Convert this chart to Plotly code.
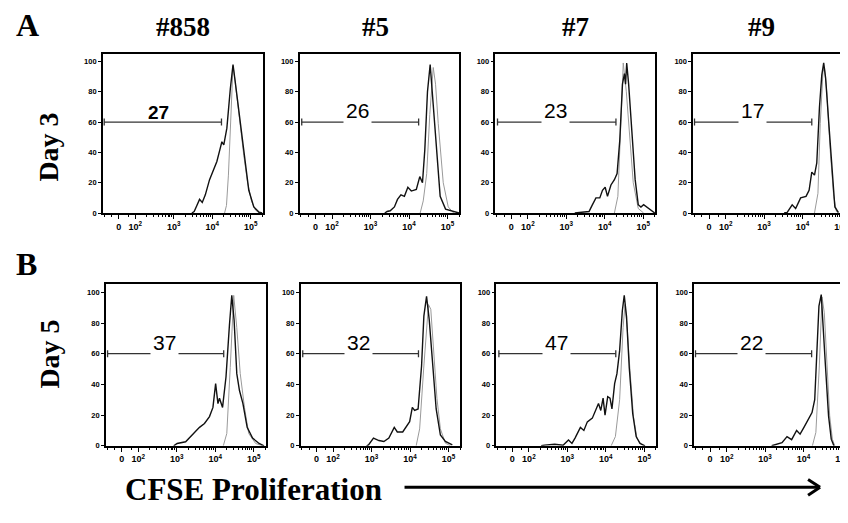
import plotly.graph_objects as go

# ---------------- data (x in decades of CFSE fluorescence, biexponential display; y in % of max) -------------
row_titles = ["Day 3", "Day 5"]
col_titles = ["#858", "#5", "#7", "#9"]
gate_pct = ["27", "26", "23", "17", "37", "32", "47", "22"]
gate_left = [1.19, 1.21, 1.21, 1.19, 1.2, 1.21, 1.22, 1.19]
gate_right = [4.24, 4.25, 4.29, 4.24, 4.22, 4.22, 4.26, 4.21]
gate_label_x = [2.61, 2.66, 2.71, 2.70, 2.69, 2.67, 2.71, 2.65]

x_tick_vals = [1.57, 2.0, 3.0, 4.0, 5.0]
x_tick_text = ["0", "10<sup>2</sup>", "10<sup>3</sup>", "10<sup>4</sup>", "10<sup>5</sup>"]
x_minor_vals = [1.19, 1.38, 1.81,
                2.30, 2.48, 2.60, 2.70, 2.78, 2.85, 2.90, 2.95,
                3.30, 3.48, 3.60, 3.70, 3.78, 3.85, 3.90, 3.95,
                4.30, 4.48, 4.60, 4.70, 4.78, 4.85, 4.90, 4.95, 5.30]
y_tick_vals = [0, 20, 40, 60, 80, 100]

a1_black_x = [3.47, 3.53, 3.60, 3.67, 3.74, 3.82, 3.93, 4.02, 4.12, 4.20, 4.25, 4.30, 4.38, 4.47, 4.54, 4.60, 4.69, 4.82, 4.95, 5.08, 5.22, 5.30]
a1_black_y = [0, 1, 5, 9, 7, 12, 22, 28, 34, 42, 47, 45, 56, 82, 98, 86, 67, 41, 15, 4, 0.5, 0]
a1_gray_x = [4.32, 4.37, 4.42, 4.47, 4.52, 4.54, 4.58, 4.64, 4.72, 4.82, 4.92, 5.02, 5.12, 5.22]
a1_gray_y = [0, 5, 25, 60, 95, 97, 90, 76, 58, 38, 20, 8, 2, 0]

a2_black_x = [3.37, 3.43, 3.51, 3.62, 3.70, 3.79, 3.88, 3.97, 4.06, 4.19, 4.28, 4.35, 4.41, 4.48, 4.55, 4.63, 4.72, 4.81, 4.95, 5.12, 5.25, 5.30]
a2_black_y = [0, 1, 1.5, 4, 9, 12, 11, 17, 14.5, 15.6, 24, 20, 41.5, 80, 98, 70, 37, 11, 2.6, 1.5, 0.4, 0]
a2_gray_x = [4.29, 4.37, 4.46, 4.54, 4.63, 4.69, 4.76, 4.89, 5.02, 5.16]
a2_gray_y = [0, 8, 26, 65, 96, 85, 59, 20, 4, 0]

a3_black_x = [3.22, 3.32, 3.59, 3.67, 3.77, 3.87, 3.94, 4.01, 4.07, 4.16, 4.25, 4.32, 4.39, 4.46, 4.51, 4.54, 4.57, 4.62, 4.70, 4.79, 4.87, 4.94, 5.01, 5.14, 5.30]
a3_black_y = [0, 0.4, 1, 5, 10, 10, 15, 17, 11, 18.5, 22, 26, 48, 85, 92, 85, 99, 85, 52, 22, 5.5, 4, 5.5, 3, 0]
a3_gray_x = [4.25, 4.34, 4.40, 4.48, 4.56, 4.65, 4.74, 4.87, 5.01]
a3_gray_y = [0, 11, 48, 99, 80, 48, 20, 3, 0]

a4_black_x = [3.52, 3.60, 3.73, 3.82, 3.95, 4.09, 4.17, 4.24, 4.31, 4.37, 4.44, 4.50, 4.55, 4.60, 4.69, 4.78, 4.84, 4.93]
a4_black_y = [0, 0.4, 5.4, 3, 10, 11, 15, 27, 25, 33, 70, 91, 99, 89, 56.5, 22, 4, 0.4]
a4_gray_x = [4.31, 4.40, 4.46, 4.53, 4.57, 4.63, 4.72, 4.81, 4.88, 4.95]
a4_gray_y = [0, 13, 59, 93, 96, 80, 41, 11, 1, 0]

b1_black_x = [2.92, 3.01, 3.23, 3.36, 3.50, 3.59, 3.72, 3.85, 3.94, 4.01, 4.07, 4.11, 4.19, 4.28, 4.37, 4.43, 4.49, 4.56, 4.63, 4.72, 4.83, 4.97, 5.14, 5.27]
b1_black_y = [0, 1.5, 2.6, 6, 10, 12, 14.5, 19, 25, 40.5, 27.5, 31, 25, 45, 79, 98, 82, 47, 36, 27.5, 12, 5, 1.5, 0]
b1_gray_x = [4.21, 4.30, 4.39, 4.48, 4.56, 4.65, 4.76, 4.87, 5.05, 5.23]
b1_gray_y = [0, 8, 51, 98, 77, 47, 25, 8, 1.5, 0]

b2_black_x = [2.87, 2.92, 3.05, 3.19, 3.32, 3.45, 3.59, 3.67, 3.81, 3.91, 3.99, 4.06, 4.12, 4.21, 4.30, 4.36, 4.43, 4.50, 4.59, 4.68, 4.79, 4.92, 5.10]
b2_black_y = [0, 0.6, 5, 3.4, 2.8, 5, 12, 9, 9, 12.5, 15.7, 25, 23, 24, 52, 84.5, 97.4, 82, 52, 24, 7, 2.8, 0.6]
b2_gray_x = [4.16, 4.25, 4.36, 4.48, 4.54, 4.61, 4.70, 4.79, 4.92, 5.05]
b2_gray_y = [0, 11, 52, 92, 89, 63, 31, 11, 1.7, 0]

b3_black_x = [2.32, 2.41, 2.67, 2.89, 3.03, 3.12, 3.20, 3.34, 3.43, 3.52, 3.65, 3.74, 3.81, 3.87, 3.93, 3.98, 4.05, 4.11, 4.16, 4.23, 4.29, 4.36, 4.43, 4.48, 4.54, 4.61, 4.70, 4.79, 4.89, 5.02]
b3_black_y = [0, 0.4, 1, 0.4, 3.7, 1.5, 5, 12, 10, 15.6, 18, 23, 27.5, 23, 31, 20, 32, 31, 24, 40.5, 47, 62, 88, 98, 84, 51, 21, 6, 1.5, 0]
b3_gray_x = [4.14, 4.25, 4.36, 4.45, 4.50, 4.55, 4.63, 4.72, 4.81, 4.94]
b3_gray_y = [0, 6, 30, 77, 92, 79, 49, 19, 5, 0.4]

b4_black_x = [3.17, 3.26, 3.44, 3.57, 3.69, 3.82, 3.91, 4.01, 4.13, 4.22, 4.29, 4.34, 4.40, 4.46, 4.50, 4.57, 4.65, 4.72, 4.79]
b4_black_y = [0, 0.6, 2, 6, 4, 10, 7.6, 12, 17, 21.6, 30, 63, 91, 98.5, 84, 52, 19.5, 4.3, 0]
b4_gray_x = [4.23, 4.32, 4.41, 4.48, 4.54, 4.61, 4.68, 4.75, 4.81]
b4_gray_y = [0, 8.7, 52, 97, 86.6, 52, 19.5, 4.3, 0]

black_series = [(a1_black_x, a1_black_y), (a2_black_x, a2_black_y), (a3_black_x, a3_black_y), (a4_black_x, a4_black_y),
                (b1_black_x, b1_black_y), (b2_black_x, b2_black_y), (b3_black_x, b3_black_y), (b4_black_x, b4_black_y)]
gray_series = [(a1_gray_x, a1_gray_y), (a2_gray_x, a2_gray_y), (a3_gray_x, a3_gray_y), (a4_gray_x, a4_gray_y),
               (b1_gray_x, b1_gray_y), (b2_gray_x, b2_gray_y), (b3_gray_x, b3_gray_y), (b4_gray_x, b4_gray_y)]

# ---------------- layout (pixel geometry, in screen pixels of the reference) ----------------
W, H = 848, 523
OFF = 8  # page body margin compensation
panel_left = [103, 300, 496, 694, 106, 301, 497, 695]
panel_w = 160
rows_px = [(54, 215), (287, 450)]
px_per_decade = 38.5
x_min = 1.156
y_top = 105.2
GATE_Y = 60


def fx(px):
    return (px - OFF) / W


def fy(py):
    return 1 - (py - OFF) / H


fig = go.Figure()
layout = dict(width=W, height=H, margin=dict(l=0, r=0, t=0, b=0),
              paper_bgcolor="white", plot_bgcolor="white", showlegend=False)

annotations = []
serif = "Liberation Serif"
sans = "Liberation Sans"

for i in range(8):
    r = i // 4
    n = i + 1
    xa = "x" if n == 1 else f"x{n}"
    ya = "y" if n == 1 else f"y{n}"
    left = panel_left[i]
    right = left + panel_w
    top, bot = rows_px[r]
    x_max = x_min + (right - left) / px_per_decade

    gx, gy = gray_series[i]
    fig.add_trace(go.Scatter(x=gx, y=gy, mode="lines", line=dict(color="#9a9a9a", width=1),
                             xaxis=xa, yaxis=ya, hoverinfo="skip"))
    bx, by = black_series[i]
    fig.add_trace(go.Scatter(x=bx, y=by, mode="lines", line=dict(color="#111111", width=1.4),
                             xaxis=xa, yaxis=ya, hoverinfo="skip"))
    gl, gr = gate_left[i], gate_right[i]
    fig.add_trace(go.Scatter(x=[gl, gr, None, gl, gl, None, gr, gr],
                             y=[GATE_Y, GATE_Y, None, GATE_Y - 2.3, GATE_Y + 2.3, None, GATE_Y - 2.3, GATE_Y + 2.3],
                             mode="lines", line=dict(color="#333333", width=1.3),
                             xaxis=xa, yaxis=ya, hoverinfo="skip"))
    if i == 0:
        annotations.append(dict(x=gate_label_x[i], y=66.5, xref=xa, yref=ya, text=gate_pct[i],
                                showarrow=False, font=dict(family=sans, size=19, color="black", weight="bold")))
    else:
        annotations.append(dict(x=gate_label_x[i], y=67.5, xref=xa, yref=ya, text=gate_pct[i],
                                showarrow=False, bgcolor="white", borderpad=2,
                                font=dict(family=sans, size=21, color="black")))

    layout["xaxis" if n == 1 else f"xaxis{n}"] = dict(
        domain=[fx(left), min(fx(right), 1.0)], range=[x_min, x_max], anchor=ya,
        showline=True, linecolor="black", linewidth=1.5, mirror=True,
        showgrid=False, zeroline=False,
        tickmode="array", tickvals=x_tick_vals, ticktext=x_tick_text,
        ticks="outside", ticklen=4, tickwidth=1.2, tickcolor="black",
        tickfont=dict(family=sans, size=9, color="#000000", weight="bold"),
        minor=dict(tickmode="array", tickvals=x_minor_vals, ticks="outside", ticklen=2.5,
                   tickwidth=1, tickcolor="black", showgrid=False),
    )
    layout["yaxis" if n == 1 else f"yaxis{n}"] = dict(
        domain=[fy(bot), fy(top)], range=[0, y_top], anchor=xa,
        showline=True, linecolor="black", linewidth=1.5, mirror=True,
        showgrid=False, zeroline=False,
        tickmode="array", tickvals=y_tick_vals,
        ticks="outside", ticklen=3, tickwidth=1.2, tickcolor="black",
        tickfont=dict(family=sans, size=7.5, color="#000000", weight="bold"),
    )

# column titles
title_px = [(183, 27), (376, 27), (576, 27), (762, 27)]
for t, (px, py) in zip(col_titles, title_px):
    annotations.append(dict(x=fx(px), y=fy(py), xref="paper", yref="paper", text=t, showarrow=False,
                            xanchor="center", yanchor="middle",
                            font=dict(family=serif, size=27, color="black", weight="bold")))
# panel letters
for t, (px, py) in zip(["A", "B"], [(28, 25), (27, 266)]):
    annotations.append(dict(x=fx(px), y=fy(py), xref="paper", yref="paper", text=t, showarrow=False,
                            xanchor="center", yanchor="middle",
                            font=dict(family=serif, size=32, color="black", weight="bold")))
# row labels
for t, (px, py) in zip(row_titles, [(49, 148), (50, 357)]):
    annotations.append(dict(x=fx(px), y=fy(py), xref="paper", yref="paper", text=t, showarrow=False,
                            xanchor="center", yanchor="middle", textangle=-90,
                            font=dict(family=serif, size=28, color="black", weight="bold")))
# bottom label
annotations.append(dict(x=fx(254), y=fy(494), xref="paper", yref="paper", text="CFSE Proliferation",
                        showarrow=False, xanchor="center", yanchor="middle",
                        font=dict(family=serif, size=31, color="black", weight="bold")))

layout["annotations"] = annotations
# arrow
ay = fy(492)
layout["shapes"] = [
    dict(type="line", xref="paper", yref="paper", x0=fx(405), x1=fx(820), y0=ay, y1=ay, line=dict(color="black", width=3)),
    dict(type="line", xref="paper", yref="paper", x0=fx(809), x1=fx(821), y0=ay + 8 / H, y1=ay, line=dict(color="black", width=3)),
    dict(type="line", xref="paper", yref="paper", x0=fx(809), x1=fx(821), y0=ay - 8 / H, y1=ay, line=dict(color="black", width=3)),
]

fig.update_layout(**layout)
fig.write_html("out.html")
